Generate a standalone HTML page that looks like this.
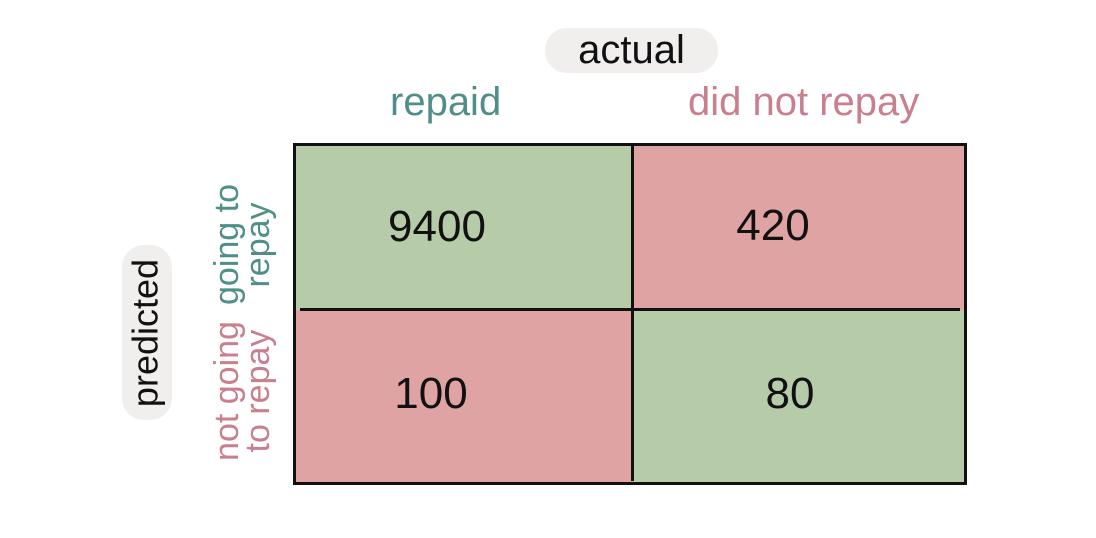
<!DOCTYPE html>
<html><head><style>
body{margin:0;width:1096px;height:538px;background:#fff;position:relative;overflow:hidden;font-family:"Liberation Sans",sans-serif}
.a{position:absolute}
.cell{position:absolute;background:#b6cca9}
.num{position:absolute;font-size:44px;color:#111;transform:translate(-50%,-50%)}
.rot{position:absolute;transform:rotate(-90deg);transform-origin:center;white-space:nowrap;text-align:center;line-height:0.9}
</style></head><body>
<div class="a" style="left:545px;top:28px;width:173px;height:45px;background:#f1eeee;border-radius:22px;font-size:40px;text-align:center;line-height:45px;color:#111">actual</div>
<div class="a" style="left:390px;top:80px;font-size:40px;color:#4f8f87">repaid</div>
<div class="a" style="left:688px;top:80px;font-size:40px;color:#c97f8d">did not repay</div>
<div class="cell" style="left:295px;top:145px;width:338px;height:165px;background:#b6cca9"></div>
<div class="cell" style="left:633px;top:145px;width:331px;height:165px;background:#dfa3a3"></div>
<div class="cell" style="left:295px;top:310px;width:338px;height:172px;background:#dfa3a3"></div>
<div class="cell" style="left:633px;top:310px;width:331px;height:172px;background:#b6cca9"></div>
<div class="num" style="left:437px;top:227px">9400</div>
<div class="num" style="left:773px;top:226px">420</div>
<div class="num" style="left:431px;top:394px">100</div>
<div class="num" style="left:790px;top:394px">80</div>
<div class="a" style="left:293px;top:143px;width:668px;height:336px;border:3px solid #111"></div>
<div class="a" style="left:631px;top:145px;width:3px;height:336px;background:#111"></div>
<div class="a" style="left:300px;top:308px;width:660px;height:3px;background:#111"></div>
<div class="a" style="left:122px;top:245px;width:50px;height:175px;background:#f1eeee;border-radius:22px"></div>
<div class="rot" style="left:60px;top:315px;width:175px;height:36px;font-size:36px;color:#111">predicted</div>
<div class="rot" style="left:190px;top:207px;width:120px;height:76px;font-size:34px;color:#4f8f87">going to<br>repay</div>
<div class="rot" style="left:170px;top:353px;width:160px;height:76px;font-size:34px;color:#c97f8d">not going<br>to repay</div>
</body></html>
